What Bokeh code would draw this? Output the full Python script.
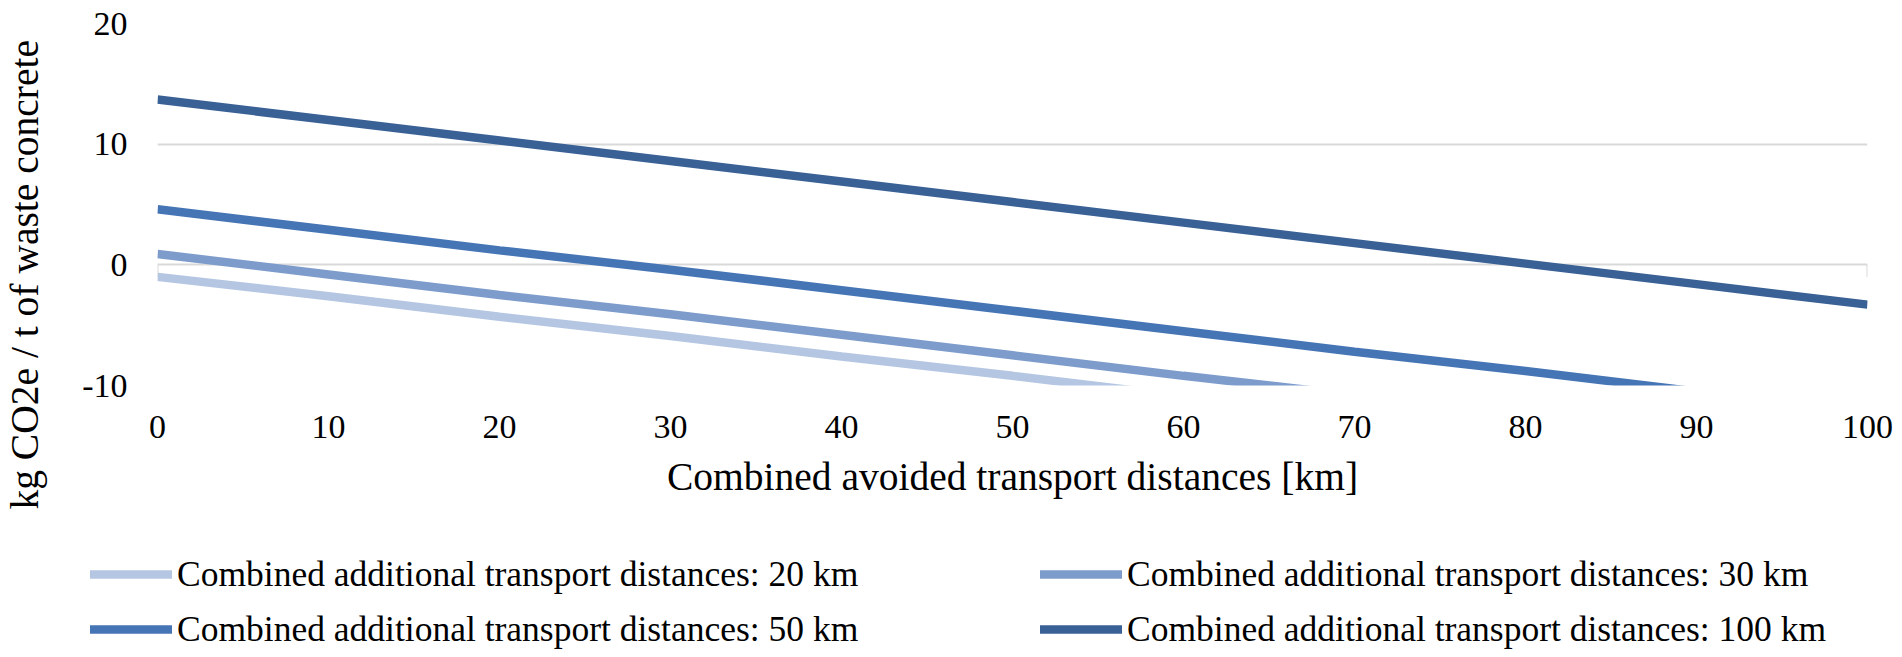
from bokeh.plotting import figure
from bokeh.models import Legend, LegendItem, FixedTicker, Range1d, Title
from bokeh.layouts import row, column
from bokeh.embed import file_html
from bokeh.resources import INLINE

# ---- data ----
avoided_km = [0, 10, 20, 30, 40, 50, 60, 70, 80, 90, 100]
co2_add_20km = [-1.0, -2.6, -4.3, -5.9, -7.6, -9.2, -10.9, -12.5, -14.2, -15.8, -17.5]
co2_add_30km = [0.9, -0.8, -2.5, -4.1, -5.8, -7.5, -9.2, -10.8, -12.5, -14.2, -15.9]
co2_add_50km = [4.6, 2.9, 1.2, -0.4, -2.1, -3.8, -5.5, -7.2, -8.8, -10.5, -12.2]
co2_add_100km = [13.7, 12.0, 10.3, 8.6, 6.9, 5.2, 3.5, 1.8, 0.1, -1.6, -3.3]

series_labels = [
    "Combined additional transport distances: 20 km",
    "Combined additional transport distances: 30 km",
    "Combined additional transport distances: 50 km",
    "Combined additional transport distances: 100 km",
]
series_colors = ["#B4C6E2", "#7D9CCC", "#4675B5", "#3A6196"]

x_ticks = [0, 10, 20, 30, 40, 50, 60, 70, 80, 90, 100]
y_ticks = [-10, 0, 10, 20]
y_tick_labels = {-10: "-10", 0: "0", 10: "10", 20: "20"}
x_min, x_max = 0, 100
y_min, y_max = -10, 20

x_title = "Combined avoided transport distances [km]"
y_title = "kg CO2e / t of waste concrete"

FONT = "Liberation Serif"
LINE_W = 8.5
series_values = [co2_add_20km, co2_add_30km, co2_add_50km, co2_add_100km]

# ---------- y-axis title strip ----------
pt = figure(width=52, height=540, output_backend="svg", toolbar_location=None,
            x_range=Range1d(0, 1), y_range=Range1d(0, 1),
            min_border_left=0, min_border_right=0, min_border_top=23,
            min_border_bottom=155, x_axis_type=None, y_axis_type=None)
pt.outline_line_color = None
pt.grid.visible = False
pt.add_layout(Title(text=y_title, align="left", offset=-124, standoff=0,
                    text_font=FONT, text_font_size="39.5px",
                    text_font_style="normal", text_color="#000000"), "left")

# ---------- main chart ----------
p = figure(width=1850, height=540, output_backend="svg", toolbar_location=None,
           x_range=Range1d(x_min, x_max), y_range=Range1d(y_min, y_max),
           min_border_left=105, min_border_right=35, min_border_top=23,
           min_border_bottom=155)
p.outline_line_color = None
p.xgrid.visible = False
p.ygrid.ticker = FixedTicker(ticks=y_ticks)
p.ygrid.grid_line_color = "#D9D9D9"
p.ygrid.grid_line_width = 2

# small end ticks on the zero line
p.segment(x0=[x_min, x_max], y0=[0, 0], x1=[x_min, x_max], y1=[-1, -1],
          line_color="#D9D9D9", line_width=2)

for ys, col in zip(series_values, series_colors):
    p.line(avoided_km, ys, line_color=col, line_width=LINE_W, line_cap="butt")

for ax in (p.xaxis[0], p.yaxis[0]):
    ax.axis_line_color = None
    ax.major_tick_line_color = None
    ax.minor_tick_line_color = None
    ax.major_label_text_font = FONT
    ax.major_label_text_font_size = "34px"
    ax.major_label_text_color = "#000000"
    ax.axis_label_text_font = FONT
    ax.axis_label_text_font_size = "39.5px"
    ax.axis_label_text_font_style = "normal"
    ax.axis_label_text_color = "#000000"

p.xaxis.ticker = FixedTicker(ticks=x_ticks)
p.yaxis.ticker = FixedTicker(ticks=y_ticks)
p.yaxis.major_label_overrides = y_tick_labels
p.xaxis.axis_label = x_title
p.xaxis.major_label_standoff = 24
p.xaxis.axis_label_standoff = 14
p.yaxis.major_label_standoff = 24

# ---------- legend strip ----------
pl = figure(width=1902, height=117, output_backend="svg", toolbar_location=None,
            x_range=Range1d(x_min, x_max), y_range=Range1d(1000, 1001),
            min_border_left=0, min_border_right=0, min_border_top=0,
            min_border_bottom=0, x_axis_type=None, y_axis_type=None)
pl.outline_line_color = None
pl.grid.visible = False
leg_renderers = []
for ys, col in zip(series_values, series_colors):
    # same series, outside this strip's visible range: only their legend glyphs show
    leg_renderers.append(pl.line(avoided_km, ys, line_color=col, line_width=LINE_W,
                                 line_cap="round"))


def make_legend(idx, loc):
    items = [LegendItem(label=series_labels[i], renderers=[leg_renderers[i]]) for i in idx]
    return Legend(items=items, location=loc, orientation="vertical",
                  label_text_font=FONT, label_text_font_size="35.5px",
                  label_text_color="#000000", glyph_width=82, glyph_height=40,
                  label_height=40, label_standoff=5, spacing=13, padding=0,
                  margin=0, border_line_color=None, background_fill_alpha=0)


pl.add_layout(make_legend([0, 2], (90, 7)), "center")
pl.add_layout(make_legend([1, 3], (1040, 7)), "center")

layout = column(row(pt, p), pl)
open("out.html", "w").write(file_html(layout, INLINE))
